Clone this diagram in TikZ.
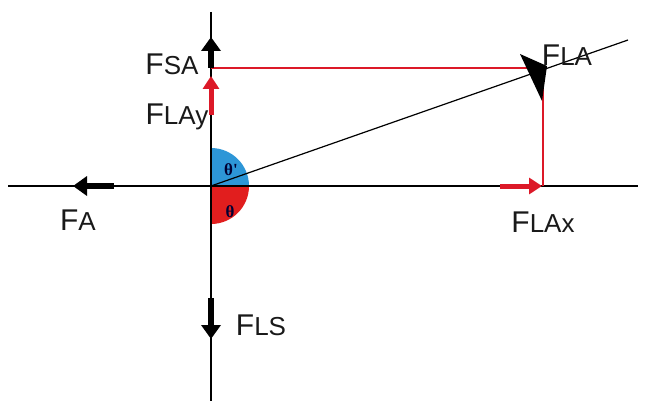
\documentclass[tikz,border=0pt]{standalone}
\usepackage{fontspec}
\setmainfont{Liberation Sans}
\newfontfamily\thfont{Liberation Serif}
\usetikzlibrary{arrows.meta}
\definecolor{myred}{RGB}{220,25,40}
\definecolor{myblue}{RGB}{45,150,215}
\definecolor{secred}{RGB}{225,30,30}
\newcommand{\sub}[1]{{\fontsize{26}{26}\selectfont #1}}
\begin{document}
\begin{tikzpicture}[x=1pt,y=-1pt,
  axis/.style={line width=1.4pt, black},
  redline/.style={draw=myred, line width=1.4pt},
  blackarrow/.style={line width=6pt, black, -{Triangle[length=14pt,width=19pt]}},
  redarrow/.style={line width=5pt, myred, -{Triangle[length=13pt,width=16pt]}},
  lbl/.style={font=\fontsize{30}{30}\selectfont, inner sep=0pt, text=black!90},
  anglbl/.style={font=\thfont\bfseries\fontsize{17}{17}\selectfont, inner sep=0pt, text=black!80!blue},
]
\useasboundingbox (0,0) rectangle (650,401);
\coordinate (O) at (211,186);
\coordinate (top) at (211,12);
\coordinate (bot) at (211,401);
\coordinate (left) at (8,186);
\coordinate (right) at (638,186);
\coordinate (lend) at (628,40);
\coordinate (P) at (543,68);
\coordinate (Px) at (543,186);
\coordinate (Py) at (211,68);
% sectors
\fill[myblue] (O) -- ++(0,-38) arc[start angle=-90,end angle=0,radius=38] -- cycle;
\fill[secred] (O) -- ++(38,0) arc[start angle=0,end angle=90,radius=38] -- cycle;
% axes
\draw[axis] (top) -- (bot);
\draw[axis] (left) -- (right);
% red rectangle
\draw[redline] (Py) -- (P) -- (Px);
% FLA line
\draw[line width=1.2pt] (O) -- (lend);
\fill (520,54) -- (547,66) -- (542,101) -- cycle;
% arrows
\coordinate (fsa1) at (211,68);
\coordinate (fsa2) at (211,37);
\draw[blackarrow] (fsa1) -- (fsa2);
\coordinate (fla1) at (211,115);
\coordinate (fla2) at (211,76);
\draw[redarrow] (fla1) -- (fla2);
\coordinate (flx1) at (500,186);
\coordinate (flx2) at (542,186);
\draw[redarrow] (flx1) -- (flx2);
\coordinate (fa1) at (114,186);
\coordinate (fa2) at (73,186);
\draw[blackarrow] (fa1) -- (fa2);
\coordinate (fls1) at (211,298);
\coordinate (fls2) at (211,339);
\draw[blackarrow] (fls1) -- (fls2);
% labels
\node[lbl] (lFSA) at (172,64) {F\sub{SA}};
\node[lbl] (lFLAy) at (177,117) {F\sub{LAy}};
\node[lbl] (lFLA) at (567,55) {F\sub{LA}};
\node[lbl] (lFA) at (78,220) {F\sub{A}};
\node[lbl] (lFLAx) at (543,222) {F\sub{LAx}};
\node[lbl] (lFLS) at (261,325) {F\sub{LS}};
\node[anglbl] (th1) at (231,170) {θ'};
\node[anglbl] (th2) at (230,212) {θ};
\end{tikzpicture}
\end{document}
